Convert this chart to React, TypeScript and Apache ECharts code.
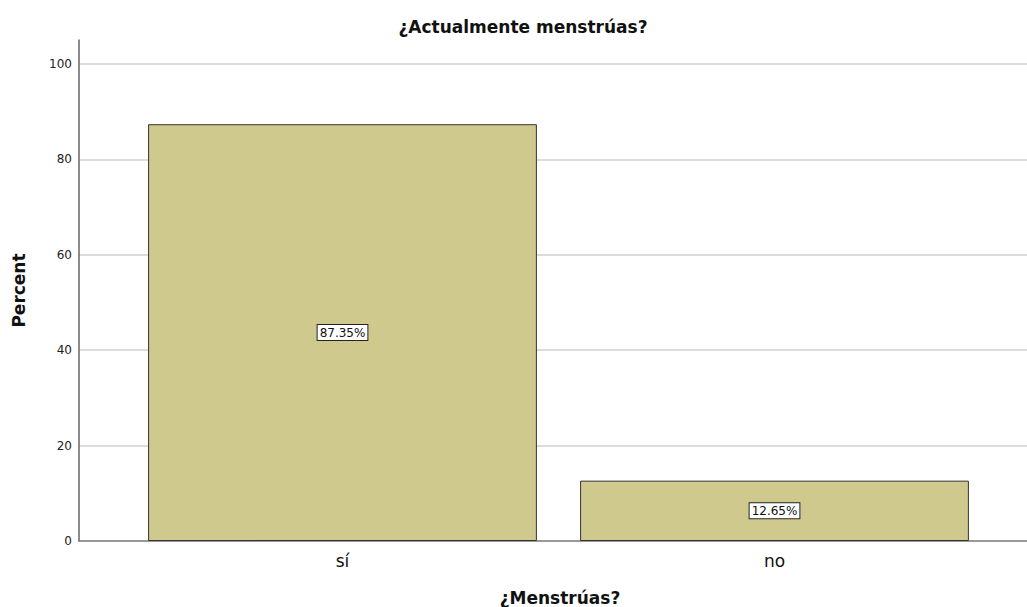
import React, { useEffect, useRef } from "react";
import * as echarts from "echarts";

const categories = ["sí", "no"];
const percentValues = [87.35, 12.65];
const yTicks = [0, 20, 40, 60, 80, 100];

const FONT = "DejaVu Sans";

export default function App() {
  const ref = useRef<HTMLDivElement>(null);
  useEffect(() => {
    const chart = echarts.init(ref.current!, null, { renderer: "svg" });
    chart.setOption({
      animation: false,
      backgroundColor: "#ffffff",
      title: {
        text: "¿Actualmente menstrúas?",
        left: 518,
        top: 13,
        textAlign: "center",
        textStyle: { fontFamily: FONT, fontSize: 17, fontWeight: "bold", color: "#111" },
      },
      grid: [
        { left: 79, right: 0, top: 40, bottom: 66, outerBoundsMode: "none" },
        { left: 126.5, width: 864, top: 40, bottom: 66, outerBoundsMode: "none" },
      ],
      xAxis: [
        {
          type: "category",
          gridIndex: 0,
          data: ["a"],
          axisLine: { lineStyle: { color: "#777", width: 1.5 } },
          axisTick: { show: false },
          axisLabel: { show: false },
          name: "¿Menstrúas?",
          nameLocation: "middle",
          nameGap: 48,
          nameTextStyle: { fontFamily: FONT, fontSize: 17, fontWeight: "bold", color: "#111", padding: [0, 0, 0, 14] },
        },
        {
          type: "category",
          gridIndex: 1,
          data: categories,
          axisLine: { show: false },
          axisTick: { show: false },
          axisLabel: { fontFamily: FONT, fontSize: 17, color: "#111", margin: 11 },
        },
      ],
      yAxis: [
        {
          type: "value",
          gridIndex: 0,
          min: 0,
          max: 105,
          interval: 20,
          axisLine: { show: true, lineStyle: { color: "#666", width: 1.5 } },
          axisTick: { show: false },
          axisLabel: {
            fontFamily: FONT,
            fontSize: 12,
            color: "#222",
            margin: 7,
            showMaxLabel: false,
            formatter: (v: number) => (yTicks.includes(v) ? String(v) : ""),
          },
          splitLine: { show: true, showMaxLine: false, showMinLine: false, lineStyle: { color: "#d0d0d0", width: 1.5 } },
          name: "Percent",
          nameLocation: "middle",
          nameGap: 52,
          nameRotate: 90,
          nameTextStyle: { fontFamily: FONT, fontSize: 17, fontWeight: "bold", color: "#111" },
        },
        {
          type: "value",
          gridIndex: 1,
          min: 0,
          max: 105,
          show: false,
          splitLine: { show: false },
        },
      ],
      series: [
        {
          type: "bar",
          xAxisIndex: 1,
          yAxisIndex: 1,
          data: percentValues,
          barCategoryGap: "10%",
          itemStyle: { color: "#cfc98e", borderColor: "#333", borderWidth: 1 },
          label: {
            show: true,
            position: "inside",
            formatter: (p: any) => p.value.toFixed(2) + "%",
            fontFamily: FONT,
            fontSize: 12,
            color: "#111",
            backgroundColor: "#ffffff",
            borderColor: "#222",
            borderWidth: 1,
            padding: [2, 2, 1, 2],
          },
        },
      ],
    });
    return () => chart.dispose();
  }, []);
  return <div ref={ref} style={{ position: "fixed", left: 0, top: 0, width: 1027, height: 607 }} />;
}
